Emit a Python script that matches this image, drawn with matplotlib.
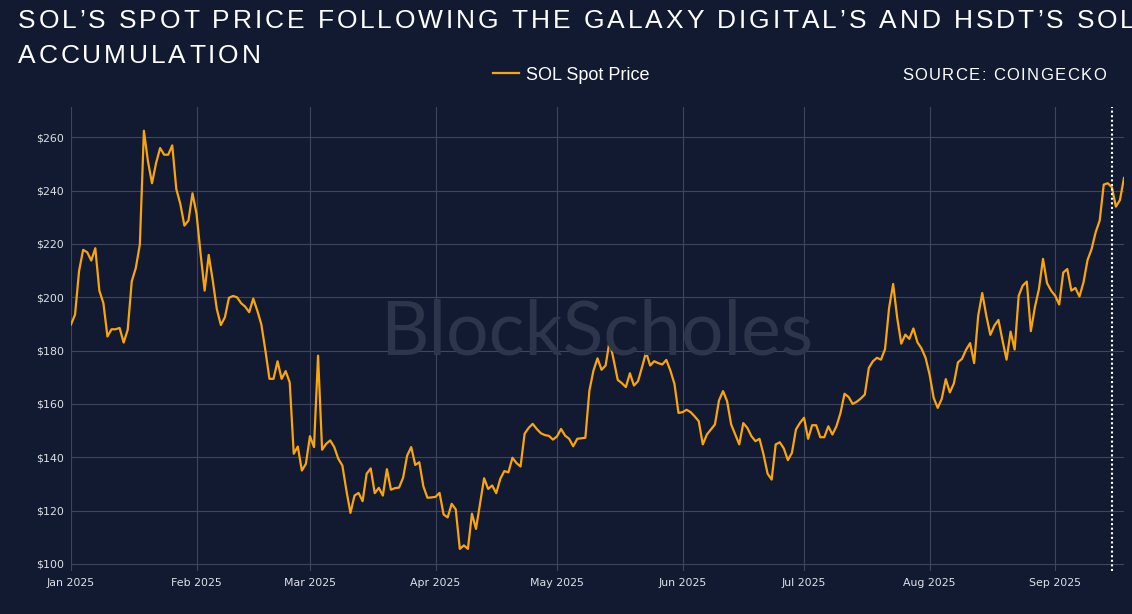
import numpy as np
import pandas as pd
import matplotlib
matplotlib.use("Agg")
import matplotlib.pyplot as plt

# daily SOL spot price (USD), 1 Jan 2025 onwards
start_date = "2025-01-01"
sol_price = [
    # Jan
    189.8, 193.5, 210.0, 217.8, 216.9, 213.8, 218.4, 202.5, 197.8, 185.3, 188.0,
    188.0, 188.5, 183.0, 187.8, 206.0, 211.0, 219.8, 262.5, 251.0, 242.8, 250.3,
    256.0, 253.5, 253.5, 257.0, 240.6, 235.0, 226.9, 228.8, 239.0,
    # Feb
    231.3, 216.3, 202.5, 215.9, 206.3, 195.6, 189.6, 192.5, 199.8, 200.5, 200.0,
    197.8, 196.5, 194.4, 199.5, 195.0, 189.8, 180.0, 169.4, 169.4, 176.0, 169.4,
    172.3, 168.1, 141.3, 144.0, 135.0, 137.5,
    # Mar
    147.9, 143.8, 178.1, 142.8, 145.0, 146.3, 143.8, 139.4, 136.9, 127.5, 119.1,
    125.6, 126.6, 123.5, 133.8, 135.8, 126.5, 128.5, 125.6, 135.5, 127.8, 128.4,
    128.6, 132.3, 140.6, 143.8, 137.1, 138.1, 129.1, 124.8, 124.9,
    # Apr
    125.1, 126.6, 118.5, 117.4, 122.5, 120.4, 105.6, 106.9, 105.6, 118.8, 113.1,
    122.5, 132.1, 128.1, 129.4, 126.5, 131.9, 134.8, 134.3, 139.8, 137.8, 136.5,
    148.8, 151.0, 152.5, 150.6, 149.0, 148.3, 148.0, 146.6,
    # May
    147.8, 150.6, 148.1, 146.9, 144.1, 146.9, 147.1, 147.3, 165.0, 172.5, 177.1,
    172.8, 174.4, 183.8, 176.3, 169.0, 167.8, 166.3, 171.5, 166.9, 168.5, 173.8,
    179.4, 174.4, 176.0, 175.3, 174.8, 176.5, 172.5, 167.5, 156.6,
    # Jun
    156.9, 157.8, 156.9, 155.3, 153.5, 144.8, 148.5, 150.4, 152.3, 161.3, 164.8,
    161.0, 152.3, 148.6, 144.8, 152.8, 151.0, 147.9, 146.0, 146.9, 141.0, 133.8,
    131.6, 144.8, 145.6, 143.3, 138.9, 141.6, 150.4, 152.9,
    # Jul
    154.8, 146.9, 152.0, 152.0, 147.5, 147.5, 151.6, 148.5, 151.6, 156.6, 163.8,
    162.6, 160.0, 160.8, 162.0, 163.5, 173.5, 176.0, 177.3, 176.6, 180.6, 196.0,
    205.0, 192.3, 182.6, 186.0, 184.4, 188.3, 183.1, 180.8, 177.3,
    # Aug
    171.0, 162.3, 158.5, 161.9, 169.3, 164.3, 167.7, 175.6, 176.9, 180.3, 182.8,
    175.3, 193.1, 201.6, 193.1, 185.9, 189.4, 191.5, 183.8, 176.6, 187.1, 180.4,
    200.6, 204.4, 205.9, 187.3, 196.3, 203.1, 214.4, 205.3, 202.5,
    # Sep
    200.6, 197.3, 209.3, 210.6, 202.5, 203.5, 200.3, 205.6, 214.0, 218.1, 224.4,
    228.8, 242.3, 242.8, 241.3, 234.0, 236.5, 244.8,
]

y_ticks = [100, 120, 140, 160, 180, 200, 220, 240, 260]
y_tick_labels = ["$100", "$120", "$140", "$160", "$180", "$200", "$220", "$240", "$260"]
x_tick_dates = ["2025-01-01", "2025-02-01", "2025-03-01", "2025-04-01", "2025-05-01",
                "2025-06-01", "2025-07-01", "2025-08-01", "2025-09-01"]
x_tick_labels = ["Jan 2025", "Feb 2025", "Mar 2025", "Apr 2025", "May 2025",
                 "Jun 2025", "Jul 2025", "Aug 2025", "Sep 2025"]
marker_date = "2025-09-15"

title_line1 = "SOL\u2019S SPOT PRICE FOLLOWING THE GALAXY DIGITAL\u2019S AND HSDT\u2019S SOL"
title_line2 = "ACCUMULATION"
source_text = "SOURCE: COINGECKO"

BG = "#111a30"
ORANGE = "#f9a50b"
W, H = 1132, 614

dates = pd.date_range(start_date, periods=len(sol_price), freq="D")

fig = plt.figure(figsize=(W / 100, H / 100), dpi=100, facecolor=BG)
ax = fig.add_axes([71 / W, 1 - 571 / H, (1124 - 71) / W, (571 - 107) / H])
ax.set_facecolor(BG)

ax.plot(dates, sol_price, color=ORANGE, lw=1.6, zorder=3, label="SOL Spot Price")
ax.axvline(pd.Timestamp(marker_date), color="white", lw=1.5, ls=(0, (1, 1.2)), zorder=4)

ax.set_xlim(dates[0], dates[-1])
ax.set_ylim(97.3, 271.4)
ax.set_yticks(y_ticks)
ax.set_yticklabels(y_tick_labels)
ax.set_xticks(pd.to_datetime(x_tick_dates))
ax.set_xticklabels(x_tick_labels)
ax.tick_params(colors="#dde0e7", labelsize=7.9, length=0, pad=5)
ax.grid(True, color="#3d465a", lw=0.8)
for s in ax.spines.values():
    s.set_visible(False)

# watermark
fig.text(597 / W, 1 - 333 / H, "BlockScholes", fontsize=54, family="Lato",
         color="#2c354a", ha="center", va="center", zorder=0)

# legend
ax.legend(loc="center left", bbox_to_anchor=(493 / W, 1 - 75 / H),
          bbox_transform=fig.transFigure, frameon=False,
          handlelength=1.45, handletextpad=0.4, borderpad=0, borderaxespad=0,
          labelcolor="white", prop={"family": "Liberation Sans", "size": 13})

renderer = fig.canvas.get_renderer()


def advance(ch, size, family):
    t1 = fig.text(0, 0, "H" + ch + "H", fontsize=size, family=family)
    t2 = fig.text(0, 0, "HH", fontsize=size, family=family)
    w = t1.get_window_extent(renderer).width - t2.get_window_extent(renderer).width
    t1.remove()
    t2.remove()
    return w


def spaced_text(x, y, s, size, tracking, family="Liberation Sans", color="white"):
    for ch in s:
        fig.text(x / W, 1 - y / H, ch, fontsize=size, family=family,
                 color=color, ha="left", va="baseline")
        x += advance(ch, size, family) + tracking


spaced_text(18, 28, title_line1, 19, 2.9)
spaced_text(18, 63, title_line2, 19, 2.9)
spaced_text(902, 80, source_text, 12, 1.4)

fig.savefig("out.png", dpi=100, facecolor=BG)
